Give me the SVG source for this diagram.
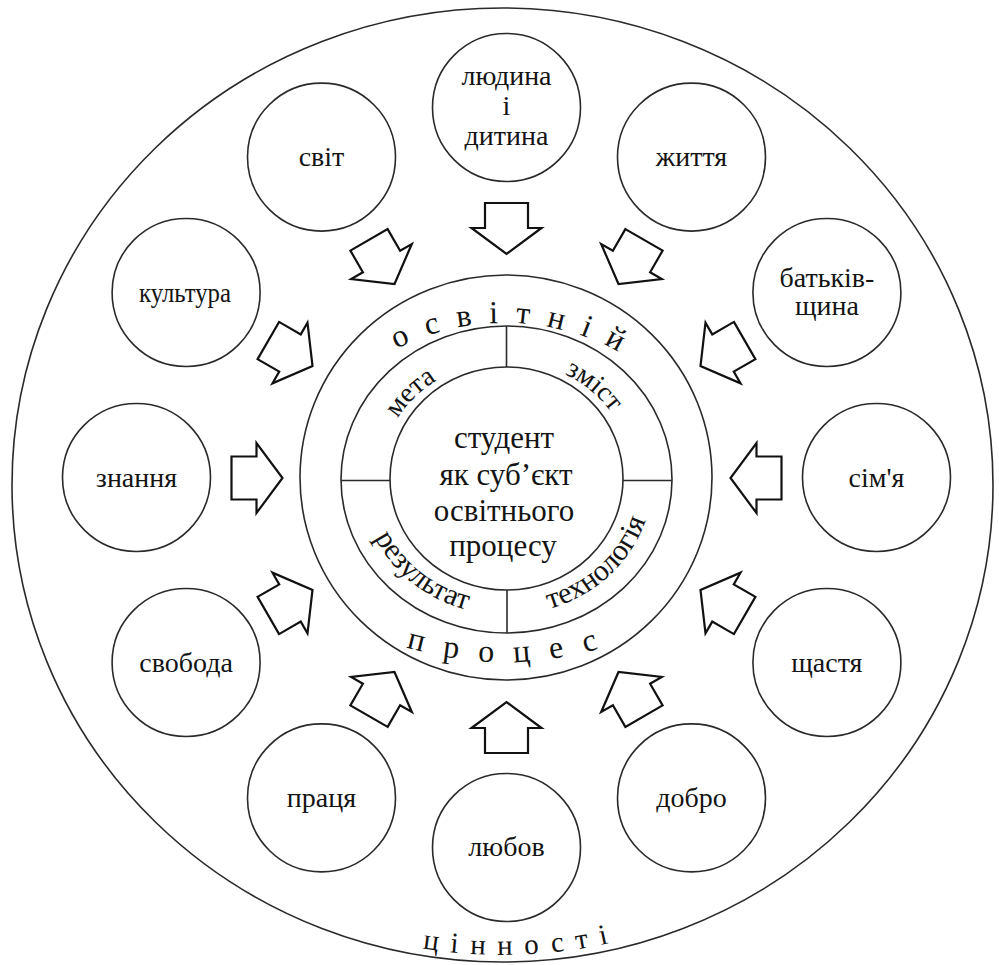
<svg xmlns="http://www.w3.org/2000/svg" width="999" height="965" viewBox="0 0 999 965" font-family="'Liberation Serif', 'Times New Roman', serif">
<style>
  .ln { fill: none; stroke: #2a2a2a; stroke-width: 1.6; }
  .node { fill: #ffffff; stroke: #2a2a2a; stroke-width: 1.6; }
  .arr { fill: #ffffff; stroke: #111111; stroke-width: 2.2; stroke-linejoin: miter; }
  text { font-family: 'Liberation Serif', 'Times New Roman', serif; fill: #141414; }
  .lbl { font-size: 28px; text-anchor: middle; }
  .ctr { font-size: 31px; text-anchor: middle; }
  .ring { font-size: 32px; }
  .sub { font-size: 28px; }
  .sub2 { font-size: 30px; }
  .val { font-size: 29px; }
</style>
<defs>
  <polygon id="arr" points="485,203 528,203 528,228 541.5,228 506.5,254 471.5,228 485,228"/>
  <path id="p_osv" d="M 267 561 A 238 238 0 0 1 743 561"/>
  <path id="p_proc" d="M 169.5 326.5 A 335.5 335.5 0 0 0 840.5 326.5"/>
  <path id="p_up" d="M 379.5 479 A 127 118 0 0 1 633.5 479"/>
  <path id="p_low" d="M 360.5 479 A 146 136 0 0 0 652.5 479"/>
  <path id="p_val" d="M 18.5 485 A 484 470 0 0 0 986.5 485"/>
</defs>
<rect width="999" height="965" fill="#ffffff"/>

<g id="frame">
  <ellipse class="ln" cx="502.5" cy="485" rx="490.5" ry="477"/>
  <text class="val" letter-spacing="12"><textPath href="#p_val" startOffset="51.3%" text-anchor="middle">цінності</textPath></text>
</g>

<g id="core">
  <ellipse class="ln" cx="506" cy="477.5" rx="206" ry="202.5"/>
  <ellipse class="ln" cx="506.5" cy="479.5" rx="165.5" ry="153.5"/>
  <ellipse class="ln" cx="506.5" cy="478.5" rx="116.5" ry="111.5"/>
  <line class="ln" x1="506.5" y1="326" x2="506.5" y2="367"/>
  <line class="ln" x1="507" y1="590" x2="507" y2="633"/>
  <line class="ln" x1="341" y1="480.5" x2="390" y2="480.5"/>
  <line class="ln" x1="623" y1="480.5" x2="672" y2="480.5"/>
  <text class="ring" letter-spacing="17"><textPath href="#p_osv" startOffset="51.5%" text-anchor="middle">освітній</textPath></text>
  <text class="ring" letter-spacing="20"><textPath href="#p_proc" startOffset="50.7%" text-anchor="middle">процес</textPath></text>
  <text class="sub"><textPath href="#p_up" startOffset="23.8%" text-anchor="middle">мета</textPath></text>
  <text class="sub"><textPath href="#p_up" startOffset="73.5%" text-anchor="middle">зміст</textPath></text>
  <text class="sub2"><textPath href="#p_low" startOffset="27.3%" text-anchor="middle">результат</textPath></text>
  <text class="sub2"><textPath href="#p_low" startOffset="75.2%" text-anchor="middle">технологія</textPath></text>
  <text class="ctr" x="504" y="448">студент</text>
  <text class="ctr" x="506" y="484.5">як суб’єкт</text>
  <text class="ctr" x="504" y="521">освітнього</text>
  <text class="ctr" x="503" y="556">процесу</text>
</g>

<g id="connectors">
  <use href="#arr" class="arr" transform="rotate(0 506.5 478)"/>
  <use href="#arr" class="arr" transform="rotate(30 506.5 478)"/>
  <use href="#arr" class="arr" transform="rotate(60 506.5 478)"/>
  <use href="#arr" class="arr" transform="rotate(90 506.5 478)"/>
  <use href="#arr" class="arr" transform="rotate(120 506.5 478)"/>
  <use href="#arr" class="arr" transform="rotate(150 506.5 478)"/>
  <use href="#arr" class="arr" transform="rotate(180 506.5 478)"/>
  <use href="#arr" class="arr" transform="rotate(210 506.5 478)"/>
  <use href="#arr" class="arr" transform="rotate(240 506.5 478)"/>
  <use href="#arr" class="arr" transform="rotate(270 506.5 478)"/>
  <use href="#arr" class="arr" transform="rotate(300 506.5 478)"/>
  <use href="#arr" class="arr" transform="rotate(330 506.5 478)"/>
</g>

<g id="n_lyudyna"><circle class="node" cx="506.5" cy="107.5" r="74"/>
  <text class="lbl" x="506.5" y="85">людина</text><text class="lbl" x="506.5" y="115">і</text><text class="lbl" x="506.5" y="145">дитина</text></g>
<g id="n_zhyttia"><circle class="node" cx="691.5" cy="157.1" r="74"/><text class="lbl" x="691.5" y="166">життя</text></g>
<g id="n_batkivshchyna"><circle class="node" cx="826.9" cy="292.5" r="74"/>
  <text class="lbl" x="826.9" y="287">батьків-</text><text class="lbl" x="826.9" y="315">щина</text></g>
<g id="n_simia"><circle class="node" cx="876.5" cy="477.5" r="74"/><text class="lbl" x="876.5" y="486.5">сім'я</text></g>
<g id="n_shchastia"><circle class="node" cx="826.9" cy="662.5" r="74"/><text class="lbl" x="826.9" y="671.5">щастя</text></g>
<g id="n_dobro"><circle class="node" cx="691.5" cy="797.9" r="74"/><text class="lbl" x="691.5" y="807">добро</text></g>
<g id="n_liubov"><circle class="node" cx="506.5" cy="847.5" r="74"/><text class="lbl" x="506.5" y="856">любов</text></g>
<g id="n_pratsia"><circle class="node" cx="321.5" cy="797.9" r="74"/><text class="lbl" x="321.5" y="807">праця</text></g>
<g id="n_svoboda"><circle class="node" cx="186.1" cy="662.5" r="74"/><text class="lbl" x="186.1" y="671.5">свобода</text></g>
<g id="n_znannia"><circle class="node" cx="136.5" cy="477.5" r="74"/><text class="lbl" x="136.5" y="486.5">знання</text></g>
<g id="n_kultura"><circle class="node" cx="186.1" cy="292.5" r="74"/><text class="lbl" x="185" y="301.5" font-size="25" textLength="92" lengthAdjust="spacingAndGlyphs">культура</text></g>
<g id="n_svit"><circle class="node" cx="321.5" cy="157.1" r="74"/><text class="lbl" x="321.5" y="166">світ</text></g>
</svg>
